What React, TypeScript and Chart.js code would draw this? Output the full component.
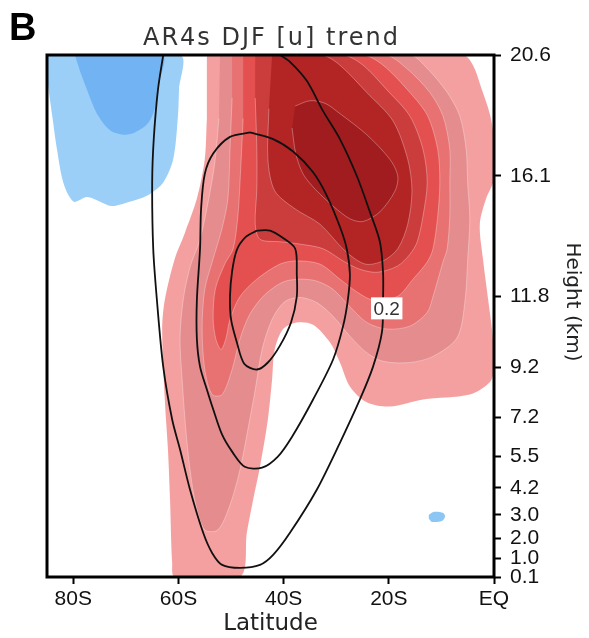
import React, { useEffect, useRef } from 'react';
import { Chart, registerables } from 'chart.js';
Chart.register(...registerables);

// axis ticks
const latTicks = [-80, -60, -40, -20, 0];
const latLabels = ['80S', '60S', '40S', '20S', 'EQ'];
const pressureLevels = [50, 100, 200, 300, 400, 500, 600, 700, 800, 900, 1000];
const heightLabels = ['20.6', '16.1', '11.8', '9.2', '7.2', '5.5', '4.2', '3.0', '2.0', '1.0', '0.1'];

// filled trend contours (latitude, pressure hPa)
const L1_lat = [-54.6, -5.9, -4, -2.3, -0.8, 0, 0, -1.5, -2.7, -2.1, -1.1, -0.2, 0, -0.8, -4.6, -13.5, -19.8, -24.2, -27.4, -29.3, -31.2, -34.4, -37.5, -40.1, -41.7, -42.2, -43, -44.5, -45.8, -47, -48.3, -60.7, -61.2, -61.6, -62, -62.6, -63.1, -62.6, -60.7, -58.8, -56.5, -55, -54.6];
const L1_p = [50, 50, 53, 61, 70, 81, 102, 114, 132, 161, 204, 255, 304, 327, 351, 361, 376, 367, 335, 292, 260, 235, 232, 241, 271, 322, 405, 531, 642, 776, 1000, 1000, 922, 642, 481, 361, 241, 204, 161, 139, 114, 91, 72];

const L2_lat = [-52.1, -16, -12.7, -8.9, -6.5, -5.3, -5, -4.6, -5, -5.5, -7, -11.6, -16, -21.1, -24.2, -27.4, -30.6, -33.7, -36.9, -39.8, -42.2, -44.1, -45.4, -46.8, -48.3, -50.2, -52.5, -55, -56.7, -57.8, -58.6, -59.3, -59.7, -59.1, -57.8, -55.9, -54.4, -53.1, -52.3];
const L2_p = [50, 50, 54, 62, 71, 86, 105, 128, 161, 204, 253, 282, 292, 290, 276, 251, 224, 207, 201, 206, 228, 271, 341, 429, 540, 661, 763, 763, 661, 540, 429, 322, 255, 204, 169, 144, 117, 93, 72];

const L3_lat = [-49.8, -20.7, -16.6, -12.2, -9.7, -8.4, -8.4, -8.4, -8.9, -9.7, -11.6, -12.7, -16, -20.4, -24.2, -27.4, -30.6, -33.7, -36.9, -40.1, -43.6, -46.4, -48.3, -49.8, -51.7, -53.6, -55, -55.5, -55, -53.4, -51.7, -50.6, -50.2, -49.8];
const L3_p = [50, 50, 54, 62, 71, 86, 104, 126, 152, 164, 200, 219, 237, 241, 232, 212, 192, 183, 181, 184, 198, 221, 255, 304, 351, 351, 304, 241, 192, 161, 135, 114, 86, 64];

const L4_lat = [-47.7, -24.9, -21.1, -16, -12.6, -10.7, -10.3, -10.7, -11.6, -12.7, -15.4, -18.4, -23, -26, -29.3, -33.1, -37.5, -40.7, -45.1, -48.3, -50.2, -51, -51.9, -52.9, -53.4, -53, -51.2, -49.6, -48.7, -48.3, -47.7];
const L4_p = [50, 50, 53, 62, 71, 86, 104, 126, 152, 164, 181, 200, 204, 195, 181, 166, 163, 166, 181, 200, 228, 255, 271, 255, 228, 192, 166, 152, 126, 104, 72];

const L5_lat = [-45.4, -28.7, -24.9, -20.4, -16, -13.5, -12.7, -13.5, -14.6, -16, -18.4, -22.2, -25.5, -28.7, -32.5, -36.9, -40.7, -44.5, -45.4, -45.1, -45.1, -45.4];
const L5_p = [50, 50, 53, 61, 71, 86, 104, 126, 146, 157, 168, 174, 171, 163, 152, 148, 146, 144, 132, 108, 86, 64];

const L6_lat = [-42.2, -32.7, -29.3, -24.2, -19.2, -16.4, -15.6, -16.4, -18.3, -21.1, -24.5, -28.3, -33.1, -37.8, -41.7, -43, -42.8];
const L6_p = [50, 50, 53, 62, 73, 91, 109, 132, 152, 163, 166, 154, 132, 121, 109, 91, 68];

const L7_lat = [-37.8, -35, -32.1, -29.3, -24.2, -19.8, -18.3, -18.8, -21.7, -24.9, -27.4, -30.6, -34, -36.3, -37.7, -38.4];
const L7_p = [67, 65, 66, 70, 79, 91, 100, 109, 123, 130, 128, 119, 108, 99, 88, 76];

// negative trend regions
const B1_lat = [-85, -59.7, -59.9, -60.1, -61, -62.9, -65.4, -67.3, -70.2, -72.8, -74.9, -77.4, -79.9, -81.8, -83.1, -84, -85];
const B1_p = [50, 50, 61, 71, 91, 104, 111, 114, 117, 119, 116, 113, 116, 105, 86, 71, 57];
const B2_lat = [-79.7, -63.1, -63.7, -64.5, -65.8, -68.3, -70.4, -73, -75.5, -77.2, -78.7];
const B2_p = [50, 50, 59, 68, 74, 78, 79, 77, 70, 62, 55];
const B3_lat = [-12.4, -11.4, -9.7, -9.3, -9.9, -11.8, -12.4];
const B3_p = [700, 688, 692, 708, 725, 729, 716];

// black climatology contours
const CA_lat = [-62.9, -63.9, -64.7, -65, -64.8, -64.1, -62.9, -61.2, -59.7, -57.8, -55.3, -53.6, -51.7, -48.3, -44.5, -42, -38.8, -33.7, -29.3, -25.5, -23, -21.3, -21.1, -21.1, -21.7, -23.6, -26.1, -29.3, -32.5, -35.6, -38.8, -40.7];
const CA_p = [50, 61, 81, 104, 152, 204, 299, 405, 481, 606, 776, 871, 933, 949, 933, 881, 776, 606, 463, 361, 299, 245, 204, 174, 146, 123, 100, 81, 69, 58, 52, 50];
const CB_lat = [-46.4, -50.2, -53.4, -55, -55.7, -55.9, -56.5, -56.5, -55.9, -54.6, -53.4, -51.7, -49.8, -47.4, -44.1, -41.1, -38.4, -34.4, -30.6, -28.7, -27.8, -27.4, -28, -29.3, -31.8, -34.4, -38.2, -42, -46.4];
const CB_p = [78, 80, 88, 99, 121, 152, 204, 255, 299, 341, 382, 442, 487, 531, 534, 501, 447, 361, 287, 237, 204, 176, 152, 134, 112, 98, 87, 81, 78];
const CC_lat = [-45.1, -42.6, -40.1, -37.8, -37.5, -37.5, -38.6, -40.7, -43, -45.1, -47.5, -48.9, -50, -50.2, -49.8, -48.9, -47.2, -45.1];
const CC_p = [137, 137, 143, 152, 176, 200, 232, 265, 292, 304, 294, 260, 228, 200, 173, 153, 142, 137];

const contourLabel = '0.2';
const contourLabelLat = -20.4;
const contourLabelP = 214;

const zip = (lat: number[], p: number[]) => lat.map((x, i) => ({ x, y: p[i] }));

export default function App() {
  const ref = useRef<HTMLCanvasElement>(null);
  useEffect(() => {
    document.body.style.margin = '0';
    const canvas = ref.current!;
    const fillDs = (label: string, lat: number[], p: number[], color: string, order: number, edge = true) => ({
      label, data: zip(lat, p), fill: 'shape', backgroundColor: color,
      borderColor: edge ? 'rgba(255,255,255,0.3)' : color, borderWidth: edge ? 1 : 0,
      pointRadius: 0, tension: 0.3, order,
    });
    const lineDs = (label: string, lat: number[], p: number[]) => ({
      label, data: zip(lat, p), fill: false, borderColor: '#111', borderWidth: 1.8,
      pointRadius: 0, tension: 0.3, order: 0,
    });

    const decor = {
      id: 'decor',
      afterDatasetsDraw(chart: any) {
        const { ctx, chartArea: a, scales } = chart;
        ctx.save();
        // contour label
        const lx = scales.x.getPixelForValue(contourLabelLat);
        const ly = scales.y.getPixelForValue(contourLabelP);
        ctx.font = '19px "Liberation Sans"';
        const w = ctx.measureText(contourLabel).width + 5;
        ctx.fillStyle = '#fff';
        ctx.fillRect(lx - w / 2, ly - 11, w, 22);
        ctx.fillStyle = '#333';
        ctx.textAlign = 'center';
        ctx.textBaseline = 'middle';
        ctx.fillText(contourLabel, lx, ly + 1);
        // frame
        ctx.lineWidth = 3;
        ctx.strokeStyle = '#000';
        ctx.strokeRect(a.left, a.top, a.right - a.left, a.bottom - a.top);
        // panel letter
        ctx.fillStyle = '#000';
        ctx.textAlign = 'left';
        ctx.textBaseline = 'alphabetic';
        ctx.font = 'bold 38px "Liberation Sans"';
        ctx.fillText('B', 9, 40);
        // title
        ctx.fillStyle = '#333';
        ctx.font = '24px "DejaVu Sans"';
        ctx.textAlign = 'center';
        (ctx as any).letterSpacing = '2px';
        ctx.fillText('AR4s DJF [u] trend', (a.left + a.right) / 2 + 1, 45);
        (ctx as any).letterSpacing = '0px';
        // y title
        ctx.font = '20px "DejaVu Sans"';
        ctx.fillStyle = '#222';
        ctx.translate(567, 302);
        ctx.rotate(Math.PI / 2);
        ctx.fillText('Height (km)', 0, 0);
        ctx.restore();
      },
    };

    const chart = new Chart(canvas, {
      type: 'line',
      data: {
        datasets: [
          fillDs('L1', L1_lat, L1_p, '#F5A0A0', 9, false),
          fillDs('L2', L2_lat, L2_p, '#E48C8E', 8),
          fillDs('L3', L3_lat, L3_p, '#E87272', 7),
          fillDs('L4', L4_lat, L4_p, '#E45050', 6),
          fillDs('L5', L5_lat, L5_p, '#CB3C3C', 5),
          fillDs('L6', L6_lat, L6_p, '#B32525', 4),
          fillDs('L7', L7_lat, L7_p, '#A11C1F', 3),
          fillDs('B1', B1_lat, B1_p, '#9BCFF8', 9, false),
          fillDs('B2', B2_lat, B2_p, '#71B3F3', 8, false),
          fillDs('B3', B3_lat, B3_p, '#8CC6F5', 9, false),
          lineDs('CA', CA_lat, CA_p),
          lineDs('CB', CB_lat, CB_p),
          lineDs('CC', CC_lat, CC_p),
        ] as any,
      },
      options: {
        responsive: false,
        animation: false,
        devicePixelRatio: 1,
        events: [],
        layout: { padding: { left: 47, top: 55, right: 0, bottom: 0 } },
        plugins: { legend: { display: false }, tooltip: { enabled: false }, title: { display: false } },
        scales: {
          x: {
            type: 'linear',
            min: -85,
            max: 0,
            afterBuildTicks: (s: any) => { s.ticks = latTicks.map((v) => ({ value: v })); },
            afterFit: (s: any) => { s.height = 61; },
            ticks: {
              autoSkip: false,
              maxRotation: 0,
              padding: 3,
              color: '#111',
              font: { family: 'Liberation Sans', size: 21 },
              callback: (v: any) => latLabels[latTicks.indexOf(Number(v))] ?? '',
            },
            grid: { display: true, drawOnChartArea: false, drawTicks: true, tickLength: 7, tickWidth: 2, tickColor: '#000', color: '#000' },
            border: { display: false },
            title: { display: true, text: 'Latitude', color: '#222', font: { family: 'DejaVu Sans', size: 23 }, padding: { top: 0, bottom: 0 } },
          },
          y: {
            type: 'logarithmic',
            position: 'right',
            reverse: true,
            min: 50,
            max: 1000,
            afterBuildTicks: (s: any) => { s.ticks = pressureLevels.map((v) => ({ value: v })); },
            afterFit: (s: any) => { s.width = 95; },
            ticks: {
              autoSkip: false,
              padding: 9,
              color: '#111',
              font: { family: 'Liberation Sans', size: 21 },
              callback: (v: any) => heightLabels[pressureLevels.indexOf(Number(v))] ?? '',
            },
            grid: { display: true, drawOnChartArea: false, drawTicks: true, tickLength: 7, tickWidth: 2, tickColor: '#000', color: '#000' },
            border: { display: false },
          },
        },
      } as any,
      plugins: [decor],
    });
    return () => chart.destroy();
  }, []);
  return <canvas ref={ref} width={589} height={638} style={{ display: 'block' }} />;
}
